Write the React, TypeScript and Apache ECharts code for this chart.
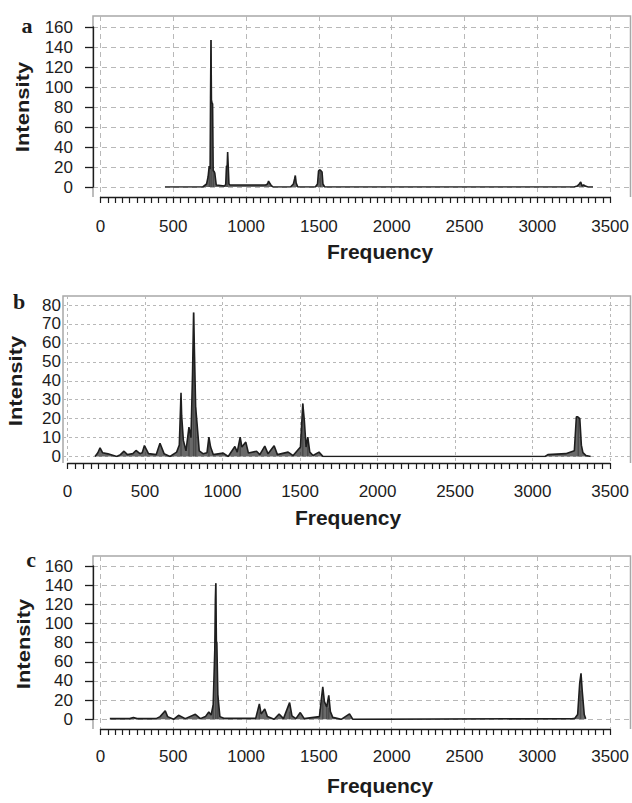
import React, { useEffect, useRef } from "react";
import * as echarts from "echarts";

// ---------- data ----------
const xMax = 3500;
const xStep = 500;
const panelLetters = ["a", "b", "c"];
const xTitle = "Frequency";
const yTitle = "Intensity";

const yMaxA = 160, yStepA = 20;
const yMaxB = 80, yStepB = 10;
const yMaxC = 160, yStepC = 20;

const freqA = [441, 700, 726, 736, 744, 750, 753, 756, 759, 763, 767, 771, 776, 782, 792, 850, 857, 862, 867, 870, 874, 879, 886, 1000, 1130, 1143, 1150, 1157, 1166, 1180, 1300, 1320, 1328, 1333, 1339, 1350, 1470, 1485, 1492, 1498, 1504, 1510, 1516, 1522, 1534, 3240, 3262, 3276, 3286, 3295, 3305, 3318, 3335, 3370];
const intA = [0, 0, 3, 10, 21, 18, 89, 147, 87, 84, 83, 16, 16, 14, 2, 1, 3, 21, 21, 35, 21, 3, 2, 2, 2, 3, 6, 4, 2, 0, 0, 3, 8, 11.5, 4, 0, 0, 3, 16, 17, 17, 16, 15, 3, 0, 0, 1, 3, 5, 1, 2, 1, 0, 0];
const stickFreqA = [745, 757, 772, 866, 1505];
const stickIntA = [21, 147, 16, 21, 16];

const freqB = [177, 195, 209, 225, 260, 316, 340, 363, 385, 420, 440, 465, 480, 494, 520, 570, 594, 620, 658, 701, 718, 729, 733, 744, 761, 780, 793, 803, 810, 816, 823, 833, 846, 872, 896, 908, 919, 936, 1000, 1032, 1075, 1090, 1109, 1120, 1145, 1162, 1214, 1235, 1267, 1288, 1327, 1348, 1417, 1449, 1496, 1511, 1521, 1532, 1543, 1556, 1577, 1615, 1641, 3067, 3085, 3200, 3255, 3268, 3276, 3290, 3300, 3310, 3330, 3360];
const intB = [0, 2, 4.6, 2, 1.4, 0, 1, 2.8, 1, 1.5, 3.2, 1.5, 2, 5.8, 1.5, 1, 7, 1.5, 0, 2.3, 6, 33.6, 21.7, 8.5, 3, 15.5, 10, 43.8, 76, 52.7, 26, 16.4, 3, 1.4, 2, 10.2, 5, 1, 1.8, 0, 5.3, 2.3, 10.2, 5, 7.6, 1.8, 2.8, 1, 5.5, 1.4, 5.7, 1, 2.3, 0.5, 5, 27.9, 19, 5, 10.2, 2.3, 0.5, 2.3, 0, 0, 1, 1.5, 3, 21, 21, 20, 6, 2, 0.5, 0];
const stickFreqB = [729, 780, 810, 823, 908, 1109, 1511, 1543, 3280];
const stickIntB = [25, 15, 76, 26, 8, 8, 28, 10, 21];

const freqC = [64, 200, 225, 250, 380, 408, 443, 459, 500, 534, 580, 649, 683, 718, 741, 757, 771, 782, 786, 789, 793, 796, 803, 817, 844, 1062, 1087, 1099, 1124, 1142, 1188, 1222, 1252, 1294, 1310, 1337, 1367, 1394, 1498, 1521, 1532, 1548, 1562, 1573, 1589, 1647, 1704, 1727, 3230, 3246, 3265, 3279, 3288, 3296, 3310, 3320];
const intC = [0.7, 0.7, 2, 0.7, 0.7, 2.8, 9, 2.8, 0, 4.2, 0.7, 5.2, 0.7, 2.8, 7.7, 4.5, 15, 72, 125, 142, 80, 81, 25, 2.8, 1, 1, 16, 5.6, 10.8, 2.8, 0, 5.6, 0.7, 17.4, 3.5, 0.7, 7, 0.7, 2.8, 34, 18.4, 13, 25, 8, 2, 0, 5.6, 0, 0.7, 1, 5, 37.5, 48, 30, 5, 0.5];
const stickFreqC = [771, 789, 803, 1087, 1294, 1521, 1548, 1562, 3285];
const stickIntC = [15, 142, 25, 8, 8, 20, 13, 12, 30];

const zip = (f: number[], v: number[]) => f.map((x, i) => [x, v[i]]);

const spectra = [
  { line: zip(freqA, intA), sticks: zip(stickFreqA, stickIntA), yMax: yMaxA, yStep: yStepA },
  { line: zip(freqB, intB), sticks: zip(stickFreqB, stickIntB), yMax: yMaxB, yStep: yStepB },
  { line: zip(freqC, intC), sticks: zip(stickFreqC, stickIntC), yMax: yMaxC, yStep: yStepC },
];

// ---------- layout ----------
const layouts = [
  { box: { l: 93, t: 16, b: 197 }, data: { l: 100.5, w: 511.5, t: 27, h: 160 }, yAxisLine: true, axisY: 202, labelMargin: 16, dash: [5, 4], letter: [27, 25], ytitle: [23, 107], xtitle: [380, 251] },
  { box: { l: 63, t: 296, b: 463 }, data: { l: 67.5, w: 545, t: 305, h: 151.5 }, yAxisLine: false, axisY: 470, labelMargin: 13, dash: [3, 3], letter: [19, 301], ytitle: [16, 381], xtitle: [348, 517] },
  { box: { l: 93, t: 556, b: 729 }, data: { l: 100.5, w: 511.5, t: 566, h: 153.3 }, yAxisLine: true, axisY: 735, labelMargin: 13, dash: [5, 4], letter: [31, 559], ytitle: [24, 644], xtitle: [380, 785] },
];

const LABEL_FONT = "'Liberation Sans', Arial, sans-serif";
const INK = "#1c1c1c";
const GRID = "#b8b8b8";
const BOX_RIGHT = 630.5;
const plain = (v: number) => String(v);

function buildOption() {
  const grid: any[] = [];
  const xAxis: any[] = [];
  const yAxis: any[] = [];
  const series: any[] = [];
  const graphic: any[] = [];

  layouts.forEach((L, i) => {
    const S = spectra[i];
    const gH = grid.length;
    // grid for horizontal gridlines and y labels
    grid.push({ left: L.box.l, right: 632 - BOX_RIGHT, top: L.data.t, height: L.data.h });
    xAxis.push({ type: "value", gridIndex: gH, min: 0, max: 1, show: false });
    yAxis.push({
      type: "value", gridIndex: gH, min: 0, max: S.yMax, interval: S.yStep,
      offset: L.yAxisLine ? L.box.l - 88 : 0,
      axisLine: { show: L.yAxisLine, lineStyle: { color: INK, width: 1.3 } },
      axisTick: { show: L.yAxisLine, length: 8, lineStyle: { color: INK, width: 1.3 } },
      axisLabel: { margin: L.yAxisLine ? 15 : 2, fontSize: 17, fontFamily: LABEL_FONT, color: INK, formatter: plain },
      splitLine: { show: true, lineStyle: { type: L.dash, color: GRID, width: 1 } },
    });
    // grid for vertical gridlines and x axis
    const gV = grid.length;
    grid.push({ left: L.data.l, width: L.data.w, top: L.box.t, height: L.box.b - L.box.t });
    xAxis.push({
      type: "value", gridIndex: gV, min: 0, max: xMax, interval: xStep,
      offset: L.axisY - L.box.b,
      axisLine: { show: true, lineStyle: { color: INK, width: 1.3 } },
      axisTick: { show: true, length: 6, lineStyle: { color: INK, width: 1.2 } },
      minorTick: { show: true, splitNumber: 10, length: 6, lineStyle: { color: INK, width: 1.2 } },
      axisLabel: { margin: L.labelMargin, fontSize: 17, fontFamily: LABEL_FONT, color: INK, formatter: plain },
      splitLine: { show: true, lineStyle: { type: L.dash, color: GRID, width: 1 } },
    });
    yAxis.push({ type: "value", gridIndex: gV, min: 0, max: 1, show: false });
    // data grid
    const gD = grid.length;
    grid.push({ left: L.data.l, width: L.data.w, top: L.data.t, height: L.data.h });
    xAxis.push({ type: "value", gridIndex: gD, min: 0, max: xMax, show: false });
    yAxis.push({ type: "value", gridIndex: gD, min: 0, max: S.yMax, show: false });

    series.push({
      type: "bar", xAxisIndex: gD, yAxisIndex: gD, data: S.sticks, barWidth: 1.5,
      itemStyle: { color: "#9c9c9c" }, z: 1, silent: true,
    });
    series.push({
      type: "line", xAxisIndex: gD, yAxisIndex: gD, data: S.line, symbol: "none", showSymbol: false,
      lineStyle: { color: "#1e1e1e", width: 1.6 }, areaStyle: { color: "#2a2a2a", opacity: 0.7 }, z: 2, silent: true,
    });

    graphic.push({
      type: "polyline", silent: true, z: 0,
      shape: { points: [[L.box.l, L.box.b], [L.box.l, L.box.t], [BOX_RIGHT, L.box.t], [BOX_RIGHT, L.box.b]] },
      style: { stroke: "#a8a8a8", lineWidth: 1.5, fill: null },
    });
    graphic.push({
      type: "text", x: L.letter[0], y: L.letter[1],
      style: { text: panelLetters[i], font: "bold 22px 'Liberation Serif', serif", fill: INK, textAlign: "center", textVerticalAlign: "middle" },
    });
    graphic.push({
      type: "text", x: L.ytitle[0], y: L.ytitle[1], rotation: Math.PI / 2, scaleY: 0.8,
      style: { text: yTitle, font: "bold 22px 'Liberation Sans', Arial, sans-serif", fill: INK, textAlign: "center", textVerticalAlign: "middle" },
    });
    graphic.push({
      type: "text", x: L.xtitle[0], y: L.xtitle[1],
      style: { text: xTitle, font: "bold 21px 'Liberation Sans', Arial, sans-serif", fill: INK, textAlign: "center", textVerticalAlign: "middle" },
    });
  });

  return { animation: false, backgroundColor: "#ffffff", grid, xAxis, yAxis, series, graphic };
}

export default function App() {
  const ref = useRef<HTMLDivElement>(null);
  useEffect(() => {
    document.body.style.margin = "0";
    const chart = echarts.init(ref.current as HTMLDivElement, null, { renderer: "svg" });
    chart.setOption(buildOption() as any);
    return () => chart.dispose();
  }, []);
  return <div ref={ref} style={{ position: "absolute", left: 0, top: 0, width: 632, height: 803, background: "#fff" }} />;
}
